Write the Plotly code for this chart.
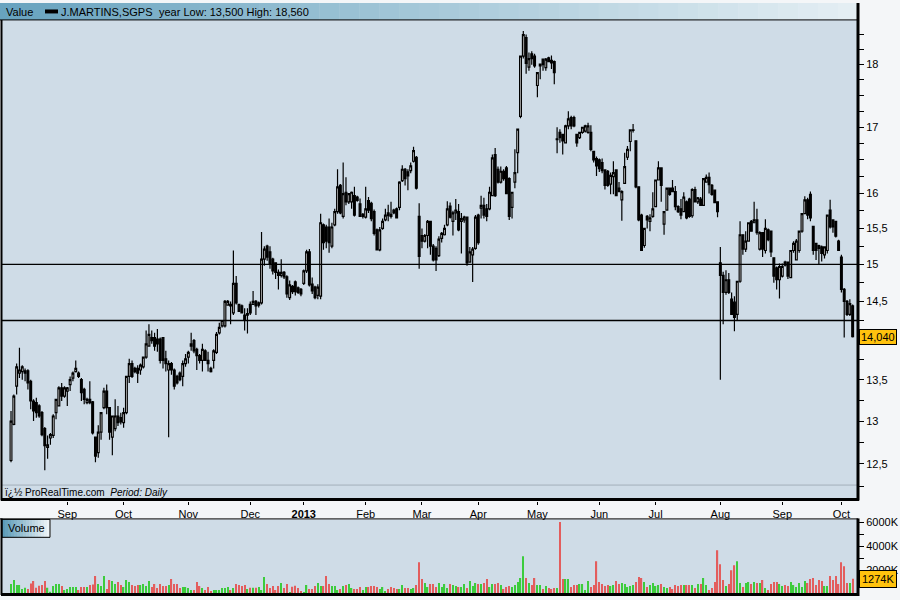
import math
import pandas as pd
import plotly.graph_objects as go

# ---------------- data ----------------
holidays = ["2012-12-25", "2012-12-26", "2013-01-01", "2013-03-29", "2013-04-01", "2013-05-01"]
dates = pd.bdate_range("2012-08-06", "2013-10-07", freq="C", holidays=holidays)

open_ = [
    12.54,12.96,13.42,13.58,13.60,13.58,13.61,13.48,13.24,13.22,13.18,13.10,12.91,12.69,12.80,12.83,13.10,13.18,13.40,13.30,
    13.36,13.44,13.52,13.60,13.58,13.50,13.38,13.22,13.26,13.23,12.81,12.63,12.87,13.16,13.36,13.16,12.81,12.91,13.06,13.04,
    12.98,13.10,13.54,13.70,13.64,13.64,13.62,13.66,13.78,13.92,14.03,14.03,14.01,14.01,14.03,13.76,13.62,13.70,13.62,13.54,13.58,13.54,13.70,
    13.78,13.92,13.99,13.88,13.80,13.74,13.86,13.74,13.64,13.74,13.84,14.09,14.18,14.18,14.45,14.46,14.35,14.74,14.46,14.44,14.32,14.32,
    14.46,14.46,14.50,14.45,14.48,15.07,15.25,15.17,15.07,15.02,14.89,14.85,14.89,14.83,14.55,14.70,14.76,14.68,14.66,
    14.74,14.91,15.17,14.73,14.69,14.58,14.57,15.55,15.52,15.52,15.25,15.55,15.74,16.12,15.67,16.02,15.88,15.88,15.97,15.95,15.85,15.67,
    15.66,15.90,15.86,15.74,15.48,15.20,15.50,15.62,15.72,15.70,15.76,15.78,15.80,16.19,16.36,16.32,16.34,16.48,16.54,15.67,
    15.40,15.32,15.40,15.60,15.25,15.22,15.12,15.36,15.41,15.55,15.82,15.60,15.72,15.74,15.60,15.62,15.66,15.03,15.13,15.22,
    15.69,15.79,15.83,15.78,15.78,15.97,16.58,16.36,16.17,16.33,16.38,16.22,15.80,16.17,16.61,17.17,18.14,18.45,17.96,18.18,18.14,
    17.66,17.98,18.09,17.95,18.11,18.07,18.05,16.81,16.92,16.89,16.76,17.02,17.15,17.15,16.89,16.84,16.92,16.94,16.92,16.92,16.63,16.52,
    16.50,16.46,16.35,16.33,16.14,16.25,16.35,16.08,15.91,16.15,16.54,16.78,16.95,16.79,16.10,15.69,15.26,15.67,15.60,15.67,
    15.81,16.20,16.38,15.56,15.76,16.08,16.08,16.03,15.81,15.78,15.74,15.88,15.92,15.68,16.06,15.88,15.92,15.83,16.17,16.24,16.12,16.05,15.88,
    15.02,14.85,14.62,14.79,14.53,14.49,14.33,14.77,15.41,15.21,15.32,15.60,15.58,15.62,15.21,15.44,15.19,15.48,15.46,15.09,14.95,14.79,
    14.84,15.03,15.03,14.82,15.19,15.06,15.19,15.46,15.71,15.91,15.99,15.53,15.29,15.26,15.24,15.13,15.19,15.76,15.62,15.60,15.32,
    15.10,14.66,14.50,14.33,14.44,
]
high_ = [
    13.12,13.32,13.70,13.90,13.68,13.64,13.63,13.50,13.26,13.28,13.20,13.12,12.93,12.83,12.86,13.08,13.26,13.42,13.46,13.42,
    13.41,13.54,13.60,13.74,13.60,13.52,13.40,13.28,13.48,13.24,12.81,12.95,13.10,13.40,13.44,13.16,13.06,13.26,13.18,13.10,
    13.16,13.54,13.76,13.74,13.66,13.68,13.70,13.78,14.12,14.20,14.12,14.09,14.14,14.03,14.03,13.86,13.74,13.72,13.64,13.56,13.60,13.74,13.82,
    13.86,14.09,14.01,13.90,13.82,13.95,13.88,13.85,13.66,13.88,14.10,14.22,14.25,14.52,14.52,14.50,15.19,14.84,14.46,14.46,14.41,14.41,
    14.50,14.64,14.52,14.50,15.45,15.25,15.27,15.25,15.09,15.02,14.93,15.07,14.91,14.85,14.78,14.72,14.78,14.70,14.68,
    14.93,15.20,15.21,14.82,14.71,14.73,15.71,15.57,15.55,15.64,15.58,15.78,16.36,16.14,16.46,16.24,16.00,16.03,16.10,15.97,15.93,15.72,
    16.10,15.95,15.88,15.77,15.50,15.52,15.64,15.78,15.84,15.88,15.78,15.80,16.18,16.42,16.38,16.36,16.46,16.70,16.56,15.86,
    15.50,15.42,15.62,15.60,15.28,15.25,15.39,15.45,15.55,15.89,15.87,15.75,15.92,15.85,15.72,15.68,15.66,15.24,15.24,15.69,
    15.71,15.97,15.94,15.85,16.10,16.58,16.68,16.40,16.40,16.36,16.41,16.24,16.02,16.66,16.97,18.14,18.56,18.50,18.20,18.22,18.18,
    17.87,18.02,18.09,18.11,18.13,18.15,18.07,17.00,16.97,16.89,17.04,17.25,17.18,17.18,16.89,16.92,17.00,17.04,17.07,17.03,16.63,16.55,
    16.52,16.52,16.35,16.35,16.31,16.48,16.36,16.17,16.05,16.61,16.71,16.96,17.05,16.79,16.10,15.71,15.50,15.69,15.70,16.02,
    16.20,16.48,16.38,15.74,16.08,16.08,16.20,16.11,15.83,15.92,16.02,15.90,15.94,16.08,16.10,15.95,15.95,16.22,16.28,16.31,16.14,16.05,15.88,
    15.24,14.90,14.92,14.88,14.62,14.57,14.77,15.60,15.41,15.46,15.58,15.62,15.88,15.78,15.46,15.44,15.63,15.50,15.46,15.09,14.97,15.01,
    15.01,15.05,15.03,15.19,15.32,15.35,15.46,15.71,15.96,15.94,16.03,15.53,15.29,15.27,15.26,15.24,15.69,15.91,15.62,15.60,15.34,
    15.13,14.68,14.52,14.53,14.46,
]
low_ = [
    12.52,12.95,13.32,13.52,13.50,13.48,13.38,13.14,13.00,13.04,13.04,12.82,12.43,12.56,12.72,12.80,13.02,13.18,13.24,13.28,
    13.18,13.36,13.48,13.59,13.52,13.24,13.20,13.20,13.20,12.84,12.52,12.57,12.78,13.14,13.08,12.78,12.60,12.88,12.94,12.96,
    12.92,13.08,13.46,13.52,13.58,13.46,13.56,13.64,13.76,13.92,13.95,13.86,13.85,13.70,13.64,13.60,12.81,13.56,13.38,13.44,13.48,13.42,13.66,
    13.70,13.86,13.83,13.62,13.70,13.60,13.74,13.60,13.59,13.64,13.82,14.07,14.16,14.16,14.45,14.20,14.32,14.46,14.37,14.34,14.12,14.08,
    14.32,14.46,14.32,14.42,14.46,14.98,15.05,14.94,14.86,14.80,14.66,14.82,14.80,14.55,14.52,14.60,14.58,14.60,14.57,
    14.72,14.88,14.70,14.60,14.53,14.53,14.53,15.20,15.22,15.16,15.22,15.53,15.71,15.70,15.64,15.83,15.85,15.78,15.67,15.88,15.67,15.64,
    15.64,15.72,15.60,15.40,15.19,15.18,15.48,15.60,15.60,15.64,15.70,15.64,15.76,16.17,16.12,16.05,16.30,16.46,16.06,14.94,
    15.22,15.30,15.22,15.13,15.04,14.91,15.10,15.30,15.40,15.53,15.64,15.40,15.62,15.46,15.15,15.58,14.98,15.02,14.76,15.20,
    15.27,15.64,15.64,15.60,15.76,15.97,15.95,16.15,16.15,16.19,16.00,15.62,15.64,16.08,16.30,17.14,18.10,17.85,17.90,18.00,17.95,
    17.47,17.76,17.90,17.90,18.04,17.93,17.68,16.60,16.76,16.58,16.76,16.97,16.97,17.00,16.70,16.82,16.90,16.92,16.90,16.63,16.46,16.26,
    16.32,16.30,16.06,16.10,15.99,15.99,15.97,16.03,15.61,16.15,16.50,16.63,16.92,16.08,15.60,15.19,15.23,15.50,15.46,15.65,
    15.81,16.20,15.88,15.41,15.76,15.97,16.03,15.76,15.72,15.63,15.74,15.63,15.65,15.65,15.88,15.85,15.82,15.83,16.17,16.00,15.97,15.86,15.66,
    13.50,14.20,14.59,14.60,14.33,14.11,14.25,14.75,15.13,15.17,15.32,15.46,15.58,15.41,15.19,15.10,15.15,15.32,15.10,14.75,14.66,14.54,
    14.82,14.97,14.80,14.82,15.16,15.06,15.16,15.44,15.71,15.63,15.60,15.13,15.06,14.99,15.04,15.08,15.15,15.50,15.44,15.37,15.19,
    14.62,14.03,14.31,14.31,14.03,
]
close_ = [
    13.00,13.30,13.66,13.62,13.66,13.61,13.46,13.24,13.12,13.10,13.06,12.84,12.71,12.72,12.84,13.06,13.26,13.40,13.30,13.40,
    13.40,13.50,13.58,13.64,13.54,13.34,13.26,13.26,13.22,12.86,12.59,12.87,13.10,13.36,13.16,12.87,13.06,13.06,12.98,12.99,
    13.10,13.54,13.70,13.54,13.60,13.58,13.68,13.78,13.95,14.07,13.99,13.92,13.95,13.74,13.74,13.70,13.70,13.62,13.42,13.46,13.50,13.70,13.76,
    13.84,13.95,13.86,13.80,13.74,13.88,13.74,13.70,13.60,13.86,14.07,14.16,14.25,14.50,14.50,14.44,14.74,14.48,14.37,14.35,14.26,14.34,
    14.35,14.50,14.44,14.48,15.07,15.21,15.10,15.00,14.91,14.89,14.85,14.89,14.83,14.60,14.72,14.63,14.63,14.62,14.60,
    14.91,15.17,14.72,14.64,14.55,14.69,15.58,15.30,15.32,15.30,15.52,15.74,16.10,15.72,16.00,15.88,16.00,16.02,15.69,15.90,15.67,15.70,
    15.78,15.76,15.64,15.43,15.20,15.48,15.60,15.69,15.68,15.67,15.72,15.65,16.17,16.36,16.22,16.26,16.41,16.64,16.08,15.11,
    15.32,15.40,15.60,15.25,15.06,15.06,15.35,15.43,15.50,15.78,15.66,15.72,15.76,15.48,15.64,15.66,15.02,15.17,15.21,15.66,
    15.30,15.83,15.69,15.67,16.02,16.53,15.97,16.17,16.33,16.22,16.00,15.67,16.02,16.31,16.97,18.14,18.50,18.02,18.10,18.10,17.98,
    17.87,18.01,18.00,18.09,18.05,18.03,17.87,16.82,16.84,16.79,17.02,17.13,17.02,17.02,16.76,16.92,17.00,17.02,17.02,16.66,16.50,16.41,
    16.37,16.34,16.12,16.12,16.27,16.31,15.97,16.03,16.03,16.40,16.66,16.96,16.96,16.10,15.62,15.19,15.50,15.62,15.65,15.78,
    16.20,16.38,16.12,15.74,16.08,15.99,16.03,15.81,15.74,15.69,15.95,15.65,15.67,16.06,15.88,15.94,15.83,16.22,16.24,16.13,15.99,15.87,15.74,
    14.85,14.62,14.79,14.62,14.33,14.29,14.77,15.41,15.21,15.32,15.58,15.46,15.62,15.44,15.44,15.21,15.50,15.34,15.17,14.84,14.79,14.97,
    14.97,14.99,14.84,15.19,15.29,15.32,15.46,15.71,15.91,15.69,15.65,15.19,15.19,15.22,15.15,15.24,15.69,15.52,15.52,15.39,15.19,
    14.66,14.50,14.33,14.47,14.04,
]
volume_k = [
    834,1168,751,751,417,528,417,890,1084,528, 695,751,1084,528,195,667,834,834,667,334,
    417,584,584,584,334,584,584,584,751,806, 1501,834,667,1501,417,1168,1084,834,1001,751,
    584,1168,1001,751,667,751,751,834,667,1084, 584,834,500,834,667,667,751,1251,834,834,
    500,584,584,500,334,334,1001,667,500,334, 584,250,334,334,334,500,500,584,334,500,
    834,751,667,751,417,528,528,528,584,334, 1418,834,500,667,334,667,917,500,834,167,
    600,700,
    500,250,167,751,417,417,667,917,667,667, 1501,834,667,667,334,417,667,751,834,500,
    417,417,584,334,584,584,667,667,584,417, 584,250,417,584,500,417,417,751,500,500,
    417,500,751,2669,1251,917,584,834,834,584, 917,584,834,500,834,
    751,667,584,584,834,500,1084,667,917,834, 834,917,1251,584,834,834,917,751,417,584,
    667,584,751,1001,1334,3169,1334,917,751,1334, 751,751,417,667,500,417,500,500,6033,1251,
    1251,1251,584,751,751,834,834,334,1084,584, 751,2752,1001,834,667,751,667,751,1084,834,
    917,834,584,667,751,1001,1418,1334,1001,584, 751,917,667,751,834,584,500,584,417,751,
    667,751,751,751,751,751,500,834,834,1334, 751,334,500,1001,3670,2502,1168,667,834,2002,
    2419,2752,917,584,917,1001,834,1001,917,917, 1168,500,334,834,1001,1001,834,667,751,667,
    1001,751,584,917,584,1084,917,1251,1334,751, 1168,1084,667,667,1501,1168,1501,834,2669,2335,
    917,917,1274,
]
support_levels = [15.0, 14.25]
last_price_text = "14,040"
last_volume_text = "1274K"
price_tick_vals = [12.25 + 0.25 * k for k in range(26)]
price_labels = {12.5: "12,5", 13.0: "13", 13.5: "13,5", 14.5: "14,5",
                15.0: "15", 15.5: "15,5", 16.0: "16", 17.0: "17", 18.0: "18"}
vol_tick_vals = [1000, 2000, 3000, 4000, 5000, 6000]
vol_tick_text = ["", "2000K", "", "4000K", "", "6000K"]
header_name = "J.MARTINS,SGPS"
header_info = "year Low: 13,500 High: 18,560"

n = len(close_)
dates = dates[:n]
idx = list(range(n))

# month ticks
tick_idx, tick_txt = [], []
for i in range(1, n):
    if dates[i].month != dates[i - 1].month:
        tick_idx.append(i)
        tick_txt.append("<b>%d</b>" % dates[i].year if dates[i].month == 1 else dates[i].strftime("%b"))

# ---------------- helpers for pixel layout ----------------
W, H = 900, 600
def fx(p):
    return p / W
def fy(p):
    return 1 - p / H

FONT = "Liberation Sans, Arial, sans-serif"
PLOT_BG = "#cfdce7"
PAPER_BG = "#f4f6f8"

fig = go.Figure()
for lvl in support_levels:
    fig.add_trace(go.Scatter(x=[-10, n + 10], y=[lvl, lvl], mode="lines",
                             line=dict(color="black", width=1.3),
                             xaxis="x", yaxis="y", showlegend=False, hoverinfo="skip"))
fig.add_trace(go.Candlestick(
    x=idx, open=open_, high=high_, low=low_, close=close_,
    increasing=dict(line=dict(color="black", width=1.2), fillcolor="white"),
    decreasing=dict(line=dict(color="black", width=1.2), fillcolor="black"),
    whiskerwidth=0, xaxis="x", yaxis="y", showlegend=False, hoverinfo="skip"))
vol_colors = ["#3ccc3c" if c >= o else "#e35d5d" for o, c in zip(open_, close_)]
fig.add_trace(go.Bar(x=idx, y=volume_k, marker=dict(color=vol_colors, line=dict(width=0)),
                     width=0.45, xaxis="x2", yaxis="y2", showlegend=False, hoverinfo="skip"))

x_range = [-3.2, n + 0.9]
shapes = []
# header gradient
steps = 43
c0, c1 = (104, 163, 191), (228, 238, 243)
for k in range(steps):
    t = k / (steps - 1)
    col = "rgb(%d,%d,%d)" % tuple(round(a + (b - a) * t) for a, b in zip(c0, c1))
    shapes.append(dict(type="rect", xref="paper", yref="paper",
                       x0=fx(858 * k / steps), x1=fx(858 * (k + 1) / steps + 0.5),
                       y0=fy(17), y1=fy(0), fillcolor=col, line=dict(width=0), layer="below"))
# legend icon in header
shapes.append(dict(type="rect", xref="paper", yref="paper", x0=fx(45), x1=fx(58), y0=fy(10.5), y1=fy(6.5),
                   fillcolor="black", line=dict(width=0)))
# volume label gradient box
for k in range(16):
    t = k / 15
    col = "rgb(%d,%d,%d)" % tuple(round(a + (b - a) * t) for a, b in zip((92, 155, 184), (238, 244, 247)))
    shapes.append(dict(type="rect", xref="paper", yref="paper",
                       x0=fx(2 + 48 * k / 16), x1=fx(2 + 48 * (k + 1) / 16 + 0.5),
                       y0=fy(537), y1=fy(519), fillcolor=col, line=dict(width=0)))
shapes.append(dict(type="rect", xref="paper", yref="paper", x0=fx(2), x1=fx(50), y0=fy(537), y1=fy(519),
                   line=dict(color="black", width=1)))
def hline(y, x0, x1, w, col="black"):
    shapes.append(dict(type="line", xref="paper", yref="paper", x0=fx(x0), x1=fx(x1), y0=fy(y), y1=fy(y),
                       line=dict(color=col, width=w)))
def vline(x, y0, y1, w, col="black"):
    shapes.append(dict(type="line", xref="paper", yref="paper", x0=fx(x), x1=fx(x), y0=fy(y0), y1=fy(y1),
                       line=dict(color=col, width=w)))
hline(484.5, 2, 858, 1, "#a3afba")
hline(17, 0, 858, 1)
vline(1.5, 17, 500, 2)
hline(499, 1, 859, 3)
vline(858, 0, 500, 3)
hline(518.5, 0, 858, 1)
vline(1.5, 518, 595, 2)
vline(858, 518, 596, 3)
hline(594.5, 1, 859, 3)

annotations = [
    dict(text="Value", x=fx(4), y=fy(9), xref="paper", yref="paper", xanchor="left", yanchor="middle",
         showarrow=False, font=dict(family=FONT, size=11, color="black")),
    dict(text=header_name, x=fx(59), y=fy(9), xref="paper", yref="paper", xanchor="left", yanchor="middle",
         showarrow=False, font=dict(family=FONT, size=11, color="black")),
    dict(text=header_info, x=fx(157), y=fy(9), xref="paper", yref="paper", xanchor="left", yanchor="middle",
         showarrow=False, font=dict(family=FONT, size=11, color="black")),
    dict(text="ï¿½ ProRealTime.com  <i>Period: Daily</i>", x=fx(3), y=fy(492), xref="paper", yref="paper",
         xanchor="left", yanchor="middle", showarrow=False, font=dict(family=FONT, size=10, color="black")),
    dict(text="Volume", x=fx(6), y=fy(528), xref="paper", yref="paper", xanchor="left", yanchor="middle",
         showarrow=False, font=dict(family=FONT, size=11, color="black")),
    dict(text=last_price_text, x=fx(859), y=math.log10(close_[-1]), xref="paper", yref="y",
         xanchor="left", yanchor="middle", showarrow=False, bgcolor="#ffc20e", bordercolor="black",
         borderwidth=1, borderpad=1, font=dict(family=FONT, size=11, color="black")),
    dict(text=last_volume_text, x=fx(859), y=volume_k[-1], xref="paper", yref="y2",
         xanchor="left", yanchor="middle", showarrow=False, bgcolor="#ffc20e", bordercolor="black",
         borderwidth=1, borderpad=2, font=dict(family=FONT, size=11, color="black")),
]

fig.update_layout(
    width=W, height=H, margin=dict(l=0, r=0, t=0, b=0),
    paper_bgcolor=PAPER_BG, plot_bgcolor=PLOT_BG, showlegend=False,
    boxgap=0.1,
    xaxis=dict(domain=[fx(2), fx(858)], range=x_range, anchor="y",
               tickmode="array", tickvals=tick_idx, ticktext=tick_txt,
               ticks="outside", ticklen=3, tickcolor="black", showgrid=False, zeroline=False,
               showline=False, tickfont=dict(family=FONT, size=11, color="black"),
               rangeslider=dict(visible=False), fixedrange=True),
    xaxis2=dict(domain=[fx(2), fx(858)], matches="x", anchor="y2", showticklabels=False,
                ticks="", showgrid=False, zeroline=False, showline=False),
    yaxis=dict(domain=[fy(500), fy(17)], type="log", range=[math.log10(12.09), math.log10(18.75)],
               side="right", anchor="x", tickmode="array", tickvals=price_tick_vals,
               ticktext=[price_labels.get(round(v, 2), "") for v in price_tick_vals],
               ticks="outside", ticklen=5, tickcolor="black", showgrid=False, zeroline=False,
               showline=False, tickfont=dict(family=FONT, size=11, color="black")),
    yaxis2=dict(domain=[fy(594), fy(519)], range=[0, 6250], side="right", anchor="x2",
                tickmode="array", tickvals=vol_tick_vals, ticktext=vol_tick_text,
                ticks="outside", ticklen=5, tickcolor="black", showgrid=False, zeroline=False,
                showline=False, tickfont=dict(family=FONT, size=11, color="black")),
    shapes=shapes, annotations=annotations,
)

fig.write_html("out.html", config={"displayModeBar": False},
               post_script="document.body.style.margin='0px';document.body.style.overflow='hidden';")
